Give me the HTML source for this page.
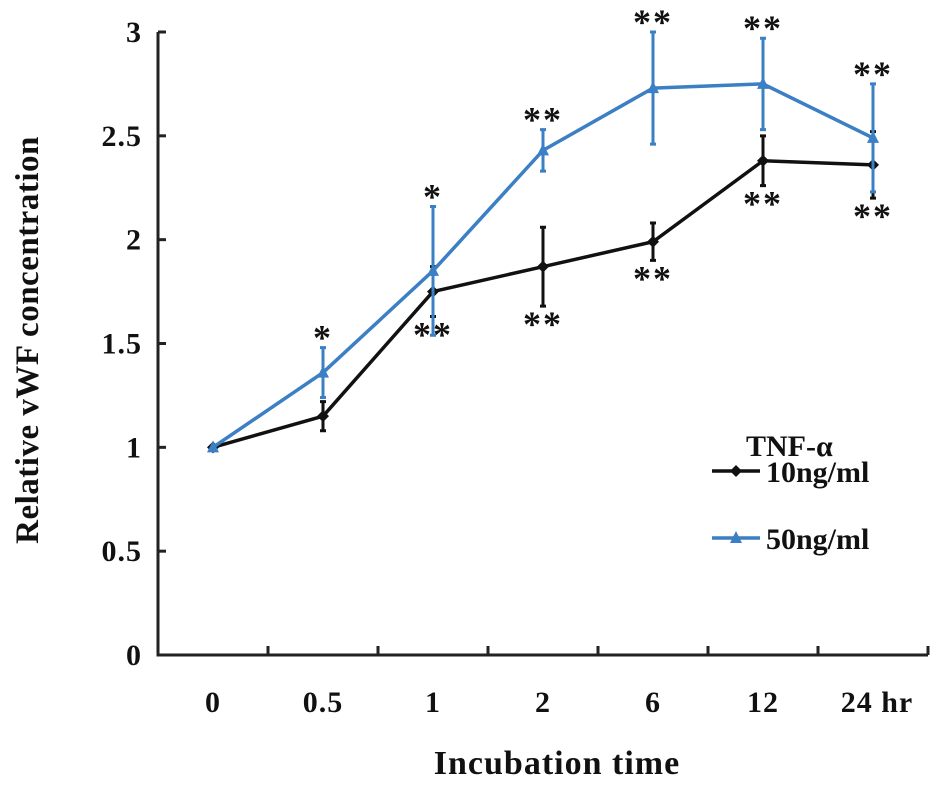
<!DOCTYPE html>
<html><head><meta charset="utf-8"><style>
html,body{margin:0;padding:0;background:#fff;}
svg text{font-family:"Liberation Serif",serif;font-weight:bold;}
</style></head><body>
<svg id="chart" width="945" height="787" xmlns="http://www.w3.org/2000/svg"></svg>
<script>
const categories = ["0","0.5","1","2","6","12","24 hr"];
const yTicks = [0,0.5,1,1.5,2,2.5,3];
const yTickLabels = ["0","0.5","1","1.5","2","2.5","3"];
const black10 = [1,1.15,1.75,1.87,1.99,2.38,2.36];
const black10Err = [0,0.07,0.12,0.19,0.09,0.12,0.16];
const blue50 = [1,1.36,1.85,2.43,2.73,2.75,2.49];
const blue50Err = [0,0.12,0.31,0.10,0.27,0.22,0.26];
const blackStars = ["","","**","**","**","**","**"];
const blueStars = ["","*","*","**","**","**","**"];

const svg = document.getElementById('chart');
const NS = "http://www.w3.org/2000/svg";
const x0 = 158, bw = 110, yBase = 655, yTop = 32, yMax = 3;
function xs(i){ return x0 + bw*(i+0.5); }
function ys(v){ return yBase - (yBase-yTop)*v/yMax; }
function mk(tag, attrs, parent){ const e=document.createElementNS(NS,tag); for(const k in attrs) e.setAttribute(k,attrs[k]); (parent||svg).appendChild(e); return e; }

const ax = mk('path',{d:`M${x0} ${yTop} V${yBase} H${x0+bw*categories.length}`,stroke:'#222',fill:'none','stroke-width':3});


yTicks.forEach((t,i)=>{
  const tk = mk('line',{x1:x0,x2:x0+8,y1:ys(t),y2:ys(t),stroke:'#222','stroke-width':3});
  
  
  const tl = mk('text',{x:x0-16,y:ys(t)+10,'text-anchor':'end','font-size':30,'letter-spacing':1,fill:'#111'});
  tl.textContent = yTickLabels[i];
  
  
});
for(let i=1;i<=categories.length;i++){
  const tk = mk('line',{x1:x0+bw*i,x2:x0+bw*i,y1:yBase,y2:yBase-9,stroke:'#222','stroke-width':3});
  
  
}
categories.forEach((c,i)=>{
  const tl = mk('text',{x:xs(i)+(i===6?4:0),y:yBase+57,'text-anchor':'middle','font-size':30,'letter-spacing':1,fill:'#111'});
  tl.textContent = c;
  
  
});
const yt = mk('text',{x:0,y:0,transform:'translate(38,340) rotate(-90)','text-anchor':'middle','font-size':33,'letter-spacing':0.5,fill:'#111'});
yt.textContent='Relative vWF concentration';


const xt = mk('text',{x:557,y:774,'text-anchor':'middle','font-size':34,'letter-spacing':1,fill:'#111'});
xt.textContent='Incubation time';



function series(vals, errs, color, name, marker){
  const g = mk('g',{});
  
  
  vals.forEach((v,i)=>{
    if(errs[i]>0){
      const e = mk('path',{d:`M${xs(i)} ${ys(v+errs[i])} V${ys(v-errs[i])} M${xs(i)-3} ${ys(v+errs[i])} H${xs(i)+3} M${xs(i)-3} ${ys(v-errs[i])} H${xs(i)+3}`,stroke:color,'stroke-width':3,fill:'none'},g);
      
      
    }
  });
  const l = mk('polyline',{points:vals.map((v,i)=>xs(i)+','+ys(v)).join(' '),stroke:color,'stroke-width':3.5,fill:'none'},g);
  
  
  vals.forEach((v,i)=>{
    const m = marker(xs(i),ys(v),g);
    
    
  });
}
const diamond=(x,y,g)=>mk('path',{d:`M${x} ${y-6} L${x+6} ${y} L${x} ${y+6} L${x-6} ${y} Z`,fill:'#111'},g);
const tri=(x,y,g)=>mk('path',{d:`M${x} ${y-7} L${x+6} ${y+5} L${x-6} ${y+5} Z`,fill:'#3b7fc4'},g);
series(black10,black10Err,'#111','series-10ng',diamond);
series(blue50,blue50Err,'#3b7fc4','series-50ng',tri);

blueStars.forEach((s,i)=>{
  if(!s) return;
  const t = mk('text',{x:xs(i),y:ys(blue50[i]+blue50Err[i])+2,'text-anchor':'middle','font-size':36,'font-weight':'normal','letter-spacing':2,fill:'#111'});
  t.textContent = s;
  
  
});
blackStars.forEach((s,i)=>{
  if(!s) return;
  const t = mk('text',{x:xs(i),y:ys(black10[i]-black10Err[i])+30,'text-anchor':'middle','font-size':36,'font-weight':'normal','letter-spacing':2,fill:'#111'});
  t.textContent = s;
  
  
});

const lg = mk('g',{});


const lt = mk('text',{x:746,y:456,'font-size':30,fill:'#111'},lg); lt.textContent='TNF-α';


mk('line',{x1:712,x2:760,y1:471,y2:471,stroke:'#111','stroke-width':3.5},lg);
diamond(736,471,lg);
const l1 = mk('text',{x:766,y:482,'font-size':30,fill:'#111'},lg); l1.textContent='10ng/ml';


mk('line',{x1:712,x2:760,y1:538,y2:538,stroke:'#3b7fc4','stroke-width':3.5},lg);
tri(736,538,lg);
const l2 = mk('text',{x:766,y:549,'font-size':30,fill:'#111'},lg); l2.textContent='50ng/ml';


</script>
</body></html>
